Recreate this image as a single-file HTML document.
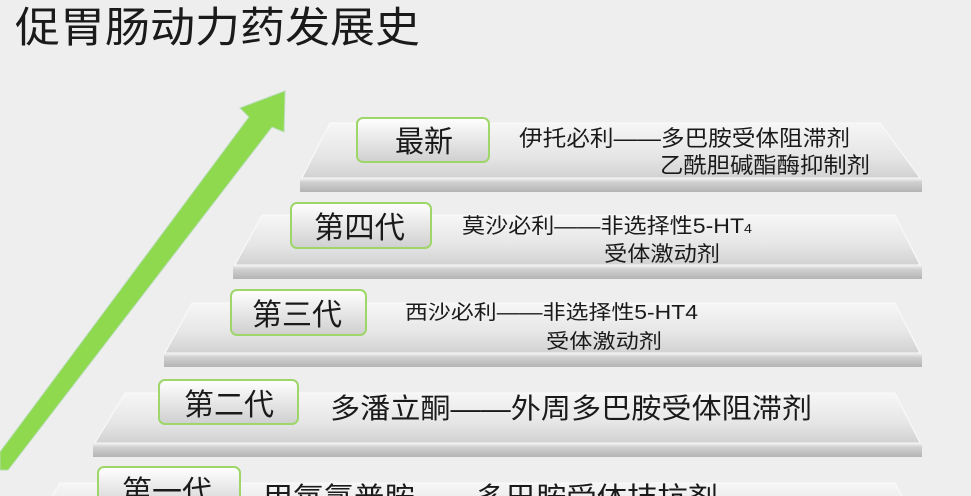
<!DOCTYPE html>
<html><head><meta charset="utf-8"><style>
html,body{margin:0;width:971px;height:496px;overflow:hidden;background:#eeeeee;font-family:"Liberation Sans","Noto Sans CJK SC",sans-serif}
svg{overflow:hidden;display:block}
</style></head><body>
<svg width="971" height="496" xmlns="http://www.w3.org/2000/svg" style="position:absolute;left:0;top:0">
<defs>
<linearGradient id="top" x1="0" y1="0" x2="0" y2="1"><stop offset="0" stop-color="#f6f6f6"/><stop offset="0.6" stop-color="#e6e6e6"/><stop offset="1" stop-color="#d2d2d2"/></linearGradient>
<linearGradient id="edge" x1="0" y1="0" x2="0" y2="1"><stop offset="0" stop-color="#f4f4f4"/><stop offset="0.3" stop-color="#d0d0d0"/><stop offset="1" stop-color="#b4b4b4"/></linearGradient>
<linearGradient id="btn" x1="0" y1="0" x2="0" y2="1"><stop offset="0" stop-color="#ffffff"/><stop offset="1" stop-color="#cfcfcf"/></linearGradient>
</defs>
<g font-family="Liberation Sans, Noto Sans CJK SC, sans-serif" fill="#1a1a1a">
<text x="15" y="42" font-size="42" textLength="405" lengthAdjust="spacingAndGlyphs">促胃肠动力药发展史</text>

<polygon points="330,123 880,123 920,178 302,178" fill="url(#top)" stroke="#fafafa"/>
<rect x="300" y="178" width="622" height="14" fill="url(#edge)"/>
<polygon points="262,215 895,215 920,265 235,265" fill="url(#top)" stroke="#fafafa"/>
<rect x="233" y="265" width="689" height="14" fill="url(#edge)"/>
<polygon points="192,303 895,303 920,353 165,353" fill="url(#top)" stroke="#fafafa"/>
<rect x="164" y="353" width="758" height="14" fill="url(#edge)"/>
<polygon points="125,393 895,393 920,443 95,443" fill="url(#top)" stroke="#fafafa"/>
<rect x="93" y="443" width="829" height="14" fill="url(#edge)"/>
<polygon points="60,483 895,483 920,533 30,533" fill="url(#top)" stroke="#fafafa"/>

<polygon points="285,91 284,132 272,127 8,470 0,470 0,452 249,117 240,108" fill="#8ed94e" stroke="#b5dcb0" stroke-width="1"/>

<rect x="357" y="118" width="132" height="44" rx="6" fill="url(#btn)" stroke="#9ed66a" stroke-width="2"/>
<text x="395" y="152" font-size="30" textLength="58" lengthAdjust="spacingAndGlyphs">最新</text>
<rect x="291" y="203" width="140" height="45" rx="6" fill="url(#btn)" stroke="#9ed66a" stroke-width="2"/>
<text x="314" y="238" font-size="30" textLength="91" lengthAdjust="spacingAndGlyphs">第四代</text>
<rect x="231" y="290" width="135" height="45" rx="6" fill="url(#btn)" stroke="#9ed66a" stroke-width="2"/>
<text x="252" y="325" font-size="30" textLength="90" lengthAdjust="spacingAndGlyphs">第三代</text>
<rect x="159" y="380" width="139" height="44" rx="6" fill="url(#btn)" stroke="#9ed66a" stroke-width="2"/>
<text x="184" y="415" font-size="30" textLength="90" lengthAdjust="spacingAndGlyphs">第二代</text>
<rect x="98" y="467" width="142" height="44" rx="6" fill="url(#btn)" stroke="#9ed66a" stroke-width="2"/>
<text x="122" y="502" font-size="30" textLength="90" lengthAdjust="spacingAndGlyphs">第一代</text>

<text x="519" y="146" font-size="22" textLength="331" lengthAdjust="spacingAndGlyphs">伊托必利——多巴胺受体阻滞剂</text>
<text x="660" y="173" font-size="22" textLength="210" lengthAdjust="spacingAndGlyphs">乙酰胆碱酯酶抑制剂</text>
<text x="462" y="233" font-size="21" textLength="290" lengthAdjust="spacingAndGlyphs">莫沙必利——非选择性5-HT<tspan font-size="13">4</tspan></text>
<text x="604" y="261" font-size="21" textLength="116" lengthAdjust="spacingAndGlyphs">受体激动剂</text>
<text x="405" y="319" font-size="20" textLength="293" lengthAdjust="spacingAndGlyphs">西沙必利——非选择性5-HT4</text>
<text x="546" y="348" font-size="20" textLength="116" lengthAdjust="spacingAndGlyphs">受体激动剂</text>
<text x="330" y="418" font-size="28" textLength="482" lengthAdjust="spacingAndGlyphs">多潘立酮——外周多巴胺受体阻滞剂</text>
<text x="263" y="507" font-size="28" textLength="455" lengthAdjust="spacingAndGlyphs">甲氧氯普胺——多巴胺受体拮抗剂</text>
</g>
</svg>
</body></html>
